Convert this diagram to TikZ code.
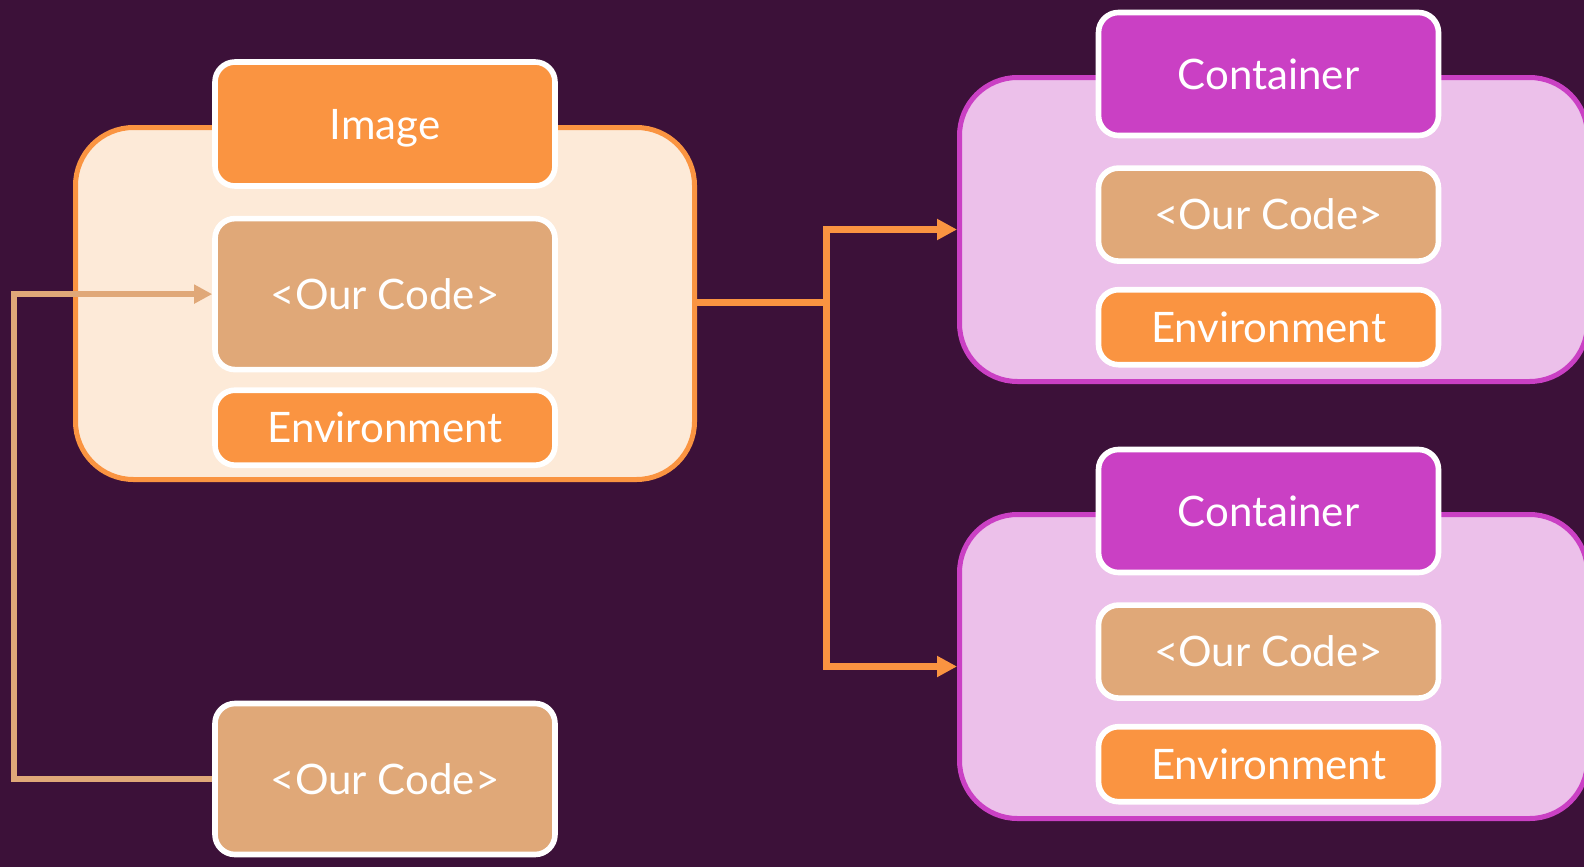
\documentclass[tikz,border=0pt]{standalone}
\usepackage{fontspec}
\setmainfont{Lato}
\definecolor{Night}{HTML}{3C1139}
\definecolor{Orange}{HTML}{FA9441}
\definecolor{Peach}{HTML}{FDEAD8}
\definecolor{Tan}{HTML}{E0A878}
\definecolor{Magenta}{HTML}{CA40C4}
\definecolor{Pink}{HTML}{ECC0EA}
\usetikzlibrary{arrows.meta,positioning,calc}

\begin{document}
\begin{tikzpicture}
[x=0.5pt,y=-0.5pt,
   outer/.style={rectangle,rounded corners=29pt,line width=2.5pt},
   card/.style={rectangle,rounded corners=10pt,draw=white,line width=2.8pt,
   text=white,font=\fontsize{21}{24}\selectfont,minimum width=170pt,
   inner sep=0pt,text height=15pt,text depth=0pt},
   link/.style={Orange,line width=3.5pt,>={Triangle[length=10pt,width=10pt]}},
   back/.style={Tan,line width=3pt,>={Triangle[length=9pt,width=9pt]}}]
\clip (0,0) rectangle (1584,867);
\fill[Night] (0,0) rectangle (1584,867);

\node[outer,draw=Orange,fill=Peach,minimum width=309.5pt,minimum
height=176pt] (image) at (385,303.5) {};
\node[card,fill=Orange,minimum height=62pt] (imghead) at (385,124) {Image};
\node[card,fill=Tan,minimum height=75.5pt,below=13.5pt of imghead] (code) {<Our Code>};
\node[card,fill=Orange,minimum height=37.5pt,below=7.5pt of code] (env) {Environment};

\node[card,fill=Tan,minimum height=75.5pt] (newcode) at (385,779) {<Our Code>};

\foreach \dy/\n in {0/1,437/2}{
\node[outer,draw=Magenta,fill=Pink,minimum width=314pt,minimum
height=152pt] (box\n) at (1273.5,229.5+\dy) {};
\node[card,fill=Magenta,minimum height=61.5pt] (head\n) at (1268.5,74+\dy) {Container};
\node[card,fill=Tan,minimum height=46.5pt,below=13.5pt of head\n] (code\n) {<Our Code>};
\node[card,fill=Orange,minimum height=37.5pt,below=11.5pt of code\n] (env\n) {Environment};
}

\coordinate (split) at (826,302);
\coordinate (bend) at (14,779);
\draw[link] (image.east |- split) -- (split);
\draw[link,->] (split) |- (box1.west);
\draw[link,->] (split) |- (box2.west);
\draw[back,->] (newcode.west) -- (bend) |- (code.west);
%%
\end{tikzpicture}
\end{document}
